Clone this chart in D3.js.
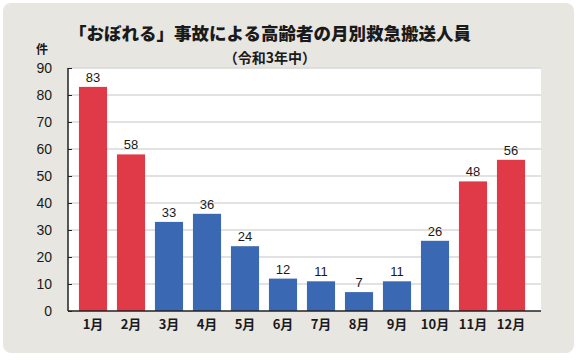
<!DOCTYPE html>
<html><head><meta charset="utf-8">
<script src="https://cdn.jsdelivr.net/npm/d3@7"></script>
<style>html,body{margin:0;padding:0;background:#fff;}svg{display:block;}</style>
</head><body><svg id="c" width="580" height="360"></svg>
<script>
const months = ["1月","2月","3月","4月","5月","6月","7月","8月","9月","10月","11月","12月"];
const values = [83,58,33,36,24,12,11,7,11,26,48,56];
const highlight = [true,true,false,false,false,false,false,false,false,false,true,true];
const yTicks = [0,10,20,30,40,50,60,70,80,90];
const title = "「おぼれる」事故による高齢者の月別救急搬送人員";
const subtitle = "（令和3年中）";
const unit = "件";

const svg = d3.select("#c");
const font = "'Noto Sans CJK JP','Noto Sans',sans-serif";
const numFont = "'Liberation Sans',Arial,sans-serif";
svg.append("rect").attr("x",3).attr("y",3).attr("width",571).attr("height",350).attr("rx",8).attr("fill","#e8e6e1");

const x = d3.scaleBand().domain(months).range([74,530]).paddingInner(0.26).paddingOuter(0.13);
const y = d3.scaleLinear().domain([0,90]).range([311,68]);

svg.append("rect").attr("x",68).attr("y",68).attr("width",473).attr("height",243).attr("fill","#fff");

svg.append("g").selectAll("line").data(yTicks.filter(d=>d>0)).join("line")
  .attr("x1",68).attr("x2",541).attr("y1",d=>y(d)).attr("y2",d=>y(d))
  .attr("stroke","#d8d8d8").attr("stroke-width",1.5);

svg.append("g").selectAll("rect").data(values).join("rect")
  .attr("x",(d,i)=>x(months[i])).attr("width",x.bandwidth())
  .attr("y",d=>y(d)).attr("height",d=>y(0)-y(d))
  .attr("fill",(d,i)=>highlight[i]?"#e03a48":"#3a68b2");

svg.append("g").selectAll("text").data(values).join("text")
  .attr("x",(d,i)=>x(months[i])+x.bandwidth()/2).attr("y",d=>y(d)-5)
  .attr("text-anchor","middle").attr("font-family",numFont).attr("font-size",13).attr("fill","#1a1a1a")
  .text(d=>d);

const yAxis = d3.axisLeft(y).tickValues(yTicks).tickSize(-4).tickPadding(16);
const ga = svg.append("g").attr("transform","translate(68,0)").call(yAxis);
ga.select(".domain").attr("stroke","#222").attr("stroke-width",1.5).attr("d","M0,68V311");
ga.selectAll(".tick line").attr("stroke","#222");
ga.selectAll(".tick text").attr("font-family",numFont).attr("font-size",14).attr("fill","#1a1a1a");

const xAxis = d3.axisBottom(x).tickSize(0).tickPadding(9);
const gx = svg.append("g").attr("transform","translate(0,311)").call(xAxis);
gx.select(".domain").attr("stroke","#222").attr("stroke-width",1.5).attr("d","M68,0H541");
gx.selectAll(".tick text").attr("font-family",font).attr("font-size",13).attr("font-weight","bold").attr("fill","#1a1a1a");

svg.append("text").attr("x",270).attr("y",40).attr("text-anchor","middle")
  .attr("font-family",font).attr("font-size",17.5).attr("font-weight","900").attr("fill","#1a1a1a").text(title);
svg.append("text").attr("x",270).attr("y",63).attr("text-anchor","middle")
  .attr("font-family",font).attr("font-size",14).attr("font-weight","bold").attr("fill","#1a1a1a").text(subtitle);
svg.append("text").attr("x",42).attr("y",54).attr("text-anchor","middle")
  .attr("font-family",font).attr("font-size",12).attr("font-weight","bold").attr("fill","#1a1a1a").text(unit);
</script></body></html>
